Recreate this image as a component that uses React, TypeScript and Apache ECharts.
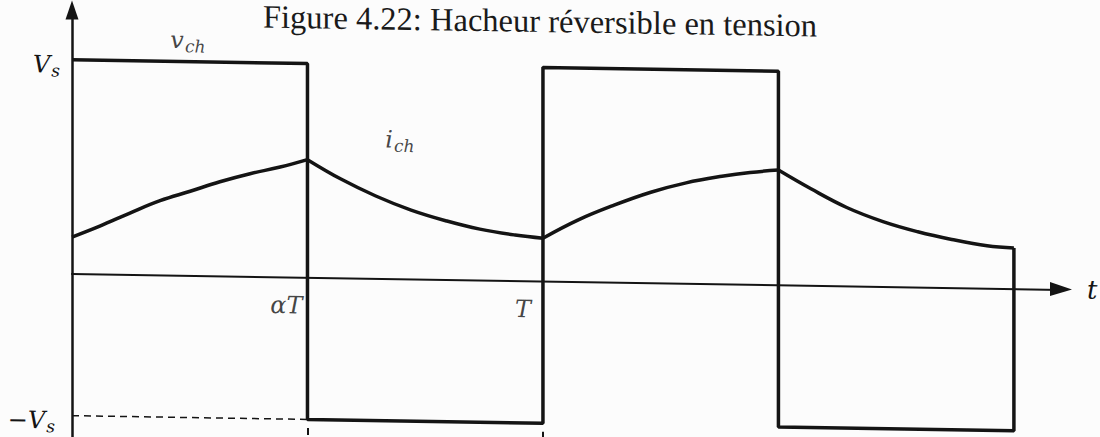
import { useEffect, useRef } from "react";
import * as echarts from "echarts";

// Title of the figure
const TITLE = "Figure 4.22: Hacheur réversible en tension";

// Time is in periods (T = 1, αT = 0.5); amplitudes are in drawing units (Vs = 3, −Vs = −2)
const vChopper: [number, number][] = [
  [0, 3], [0.5, 3], [0.5, -2], [1, -2], [1, 3], [1.5, 3], [1.5, -2], [2, -2], [2, 0.57],
];

// Load current, one array per rising / falling stretch
const iRise1: [number, number][] = [
  [0, 0.51], [0.059, 0.67], [0.123, 0.86], [0.187, 1.04], [0.251, 1.18],
  [0.314, 1.32], [0.378, 1.44], [0.442, 1.54], [0.5, 1.65],
];
const iFall1: [number, number][] = [
  [0.5, 1.65], [0.571, 1.385], [0.645, 1.155], [0.72, 0.965], [0.796, 0.819],
  [0.866, 0.713], [0.941, 0.638], [1.0, 0.6],
];
const iRise2: [number, number][] = [
  [1.0, 0.6], [1.074, 0.862], [1.151, 1.08], [1.229, 1.27], [1.304, 1.41],
  [1.38, 1.51], [1.44, 1.57], [1.5, 1.61],
];
const iFall2: [number, number][] = [
  [1.5, 1.61], [1.569, 1.354], [1.645, 1.1], [1.722, 0.91], [1.796, 0.775],
  [1.868, 0.674], [1.943, 0.593], [2.0, 0.57],
];

// Dashed guide at −Vs
const negGuide: [number, number][] = [[0, -2], [0.5, -2]];

// Switching instants and their names on the time axis
const xTickValues = [0.5, 1];
const xTickNames = ["αT", "T"];
const xTickLabelLevel = -0.4;

// Voltage levels named on the vertical axis
const yTickValues = [3, -2];

// Curve name positions
const vLabelPos: [number, number] = [0.246, 3.3];
const iLabelPos: [number, number] = [0.696, 1.95];

const INK = "#141414";
const MATH = "DejaVu Serif";
const SERIF = "Liberation Serif";

const mathRich = {
  m: { fontFamily: MATH, fontStyle: "italic", fontSize: 24, color: INK, lineHeight: 28 },
  s: { fontFamily: MATH, fontStyle: "italic", fontSize: 17, color: INK, lineHeight: 28, padding: [12, 0, 0, 1] },
  t: { fontFamily: MATH, fontStyle: "italic", fontSize: 17, color: INK, lineHeight: 28, padding: [12, 5, 0, 1] },
};

export default function App() {
  const ref = useRef<HTMLDivElement>(null);

  useEffect(() => {
    if (!ref.current) return;
    const chart = echarts.init(ref.current, null, { renderer: "svg" });

    const currentLine = (data: [number, number][]) => ({
      type: "line",
      data,
      smooth: 0.4,
      symbol: "none",
      lineStyle: { color: INK, width: 3.5 },
      z: 4,
    });

    chart.setOption({
      animation: false,
      backgroundColor: "transparent",
      title: {
        text: TITLE,
        left: 263,
        top: -3,
        padding: 0,
        textStyle: { fontFamily: SERIF, fontSize: 32.5, fontWeight: "normal", color: "#1a1a1a" },
      },
      grid: { left: 72, right: 39, top: 10, bottom: 0, containLabel: false, outerBoundsMode: "none" },
      xAxis: {
        type: "value",
        min: 0,
        max: 2.1,
        axisLine: {
          show: true,
          onZero: true,
          symbol: ["none", "triangle"],
          symbolSize: [14, 22],
          lineStyle: { color: INK, width: 2 },
        },
        axisTick: { show: false },
        splitLine: { show: false },
        axisLabel: { show: false },
        name: "t",
        nameLocation: "end",
        nameGap: 26,
        nameTextStyle: { fontFamily: MATH, fontStyle: "italic", fontSize: 26, color: INK, padding: [4, 0, 0, 0] },
      },
      yAxis: {
        type: "value",
        min: -2.3,
        max: 3.7,
        axisLine: {
          show: true,
          symbol: ["none", "triangle"],
          symbolSize: [13, 19],
          lineStyle: { color: INK, width: 2.5 },
        },
        axisTick: { show: false },
        splitLine: { show: false },
        axisLabel: {
          customValues: yTickValues,
          margin: 12,
          padding: [10, 0, 0, 0],
          formatter: (v: number) => (v === 3 ? "{m|V}{s|s}" : "{m|−V}{t|s}"),
          rich: mathRich,
        },
      },
      series: [
        {
          type: "line",
          data: vChopper,
          symbol: "none",
          lineStyle: { color: INK, width: 3.5 },
          z: 3,
        },
        currentLine(iRise1),
        currentLine(iFall1),
        currentLine(iRise2),
        currentLine(iFall2),
        {
          type: "line",
          data: negGuide,
          symbol: "none",
          lineStyle: { color: INK, width: 1.5, type: [7, 5] },
          z: 2,
          markLine: {
            silent: true,
            symbol: "none",
            label: { show: false },
            lineStyle: { color: INK, width: 2, type: "solid" },
            data: xTickValues.map((x) => [{ coord: [x, -2.12] }, { coord: [x, -2.22] }]),
          },
        },
        {
          // names of the curves
          type: "scatter",
          symbolSize: 0,
          silent: true,
          data: [
            { value: vLabelPos, name: "v" },
            { value: iLabelPos, name: "i" },
          ],
          label: {
            show: true,
            position: "inside",
            formatter: (p: any) => (p.name === "v" ? "{m|v}{s|ch}" : "{m|i}{s|ch}"),
            rich: mathRich,
          },
        },
        {
          // names of the switching instants, just below the time axis
          type: "scatter",
          symbolSize: 0,
          silent: true,
          data: xTickValues.map((x, k) => ({
            value: [x, xTickLabelLevel],
            name: xTickNames[k],
            label: { distance: k === 0 ? 5 : 12 },
          })),
          label: {
            show: true,
            position: "left",
            formatter: (p: any) => p.name,
            fontFamily: MATH,
            fontStyle: "italic",
            fontSize: 24,
            color: INK,
          },
        },
      ],
    });

    return () => chart.dispose();
  }, []);

  return (
    <div
      style={{
        position: "fixed",
        left: 0,
        top: 0,
        width: 1100,
        height: 437,
        overflow: "hidden",
        background: "#fcfcfc",
      }}
    >
      <div
        ref={ref}
        style={{
          width: 1100,
          height: 437,
          transform: "skewY(0.92deg)",
          transformOrigin: "72px 273px",
        }}
      />
    </div>
  );
}
